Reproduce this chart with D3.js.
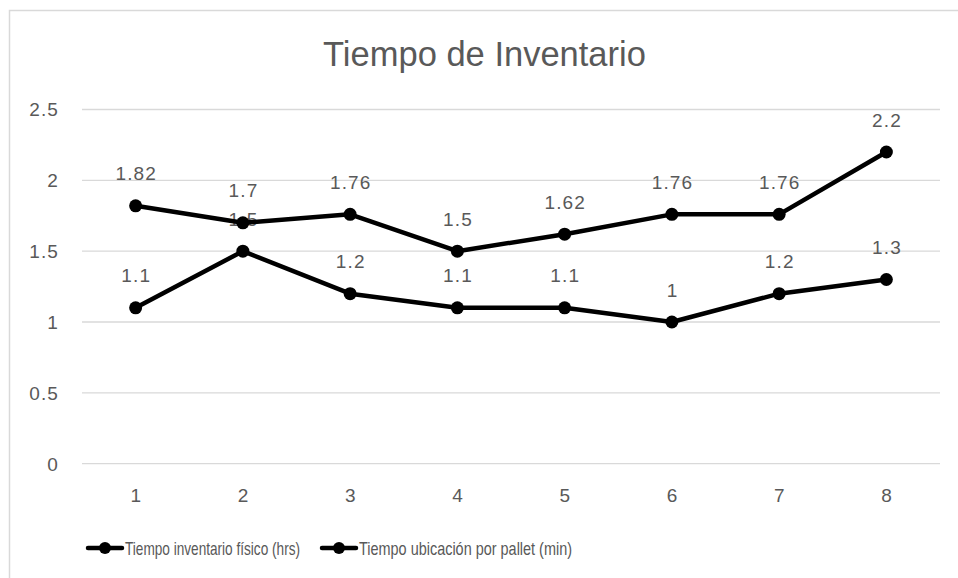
<!DOCTYPE html>
<html>
<head>
<meta charset="utf-8">
<script src="https://cdn.jsdelivr.net/npm/d3@7"></script>
<style>
  body { margin: 0; background: #fff; }
  text { font-family: "Liberation Sans", Arial, sans-serif; fill: #595959; }
</style>
</head>
<body>
<div id="main"></div>
<script>
// chart data
var categories = ["1", "2", "3", "4", "5", "6", "7", "8"];
var horasFisico = [1.1, 1.5, 1.2, 1.1, 1.1, 1, 1.2, 1.3];
var minPallet = [1.82, 1.7, 1.76, 1.5, 1.62, 1.76, 1.76, 2.2];
var seriesNames = ["Tiempo inventario físico (hrs)", "Tiempo ubicación por pallet (min)"];
var yTicks = [0, 0.5, 1, 1.5, 2, 2.5];

var W = 958, H = 578;
var margin = {top: 109.5, right: 18, bottom: 114.3, left: 82};
var width = W - margin.left - margin.right,
    height = H - margin.top - margin.bottom;

var svg = d3.select("#main").append("svg")
    .attr("width", W)
    .attr("height", H);

// chart frame (runs past the window edges)
svg.append("rect")
    .attr("x", 9.5).attr("y", 10.5)
    .attr("width", 1000).attr("height", 700)
    .attr("fill", "none")
    .attr("stroke", "#d9d9d9")
    .attr("stroke-width", 1.5);

var g = svg.append("g")
    .attr("transform", "translate(" + margin.left + "," + margin.top + ")");

var x = d3.scaleBand().domain(categories).range([0, width]);
var y = d3.scaleLinear().domain([0, 2.5]).range([height, 0]);

var numStyle = function(sel) {
    sel.style("font-size", "19px").style("letter-spacing", "1.1px");
};

// gridlines
g.selectAll(".grid")
  .data(yTicks)
  .enter().append("line")
    .attr("x1", 0).attr("x2", width)
    .attr("y1", function(d) { return y(d); })
    .attr("y2", function(d) { return y(d); })
    .attr("stroke", "#d9d9d9")
    .attr("stroke-width", 1.3);

// y axis labels
g.selectAll(".ylab")
  .data(yTicks)
  .enter().append("text")
    .attr("x", -23)
    .attr("y", function(d) { return y(d); })
    .attr("dy", "0.36em")
    .attr("text-anchor", "end")
    .call(numStyle)
    .text(function(d) { return d; });

// x axis labels
g.selectAll(".xlab")
  .data(categories)
  .enter().append("text")
    .attr("x", function(d) { return x(d) + x.bandwidth() / 2 + 0.6; })
    .attr("y", height + 31)
    .attr("dy", "0.36em")
    .attr("text-anchor", "middle")
    .call(numStyle)
    .text(function(d) { return d; });

// title
svg.append("text")
    .attr("x", 484.5)
    .attr("y", 66)
    .attr("text-anchor", "middle")
    .style("font-size", "34.5px")
    .text("Tiempo de Inventario");

var line = d3.line()
    .x(function(d, i) { return x(categories[i]) + x.bandwidth() / 2; })
    .y(function(d) { return y(d); });

[horasFisico, minPallet].forEach(function(vals) {
    g.append("path")
        .datum(vals)
        .attr("d", line)
        .attr("fill", "none")
        .attr("stroke", "#000")
        .attr("stroke-width", 4.5)
        .attr("stroke-linejoin", "round");

    g.selectAll(null)
      .data(vals)
      .enter().append("circle")
        .attr("cx", function(d, i) { return x(categories[i]) + x.bandwidth() / 2; })
        .attr("cy", function(d) { return y(d); })
        .attr("r", 6.5)
        .attr("fill", "#000");

    g.selectAll(null)
      .data(vals)
      .enter().append("text")
        .attr("x", function(d, i) { return x(categories[i]) + x.bandwidth() / 2 + 0.6; })
        .attr("y", function(d) { return y(d) - 25.5; })
        .attr("text-anchor", "middle")
        .call(numStyle)
        .text(function(d) { return d; });
});

// legend
var legendX = [88, 322];
var legendW = [175, 213];
var legend = svg.selectAll(".legend")
  .data(seriesNames)
  .enter().append("g")
    .attr("transform", function(d, i) { return "translate(" + legendX[i] + ",548)"; });

legend.append("line")
    .attr("x1", 0).attr("x2", 34)
    .attr("stroke", "#000")
    .attr("stroke-width", 4.5)
    .attr("stroke-linecap", "round");
legend.append("circle")
    .attr("cx", 17).attr("r", 6)
    .attr("fill", "#000");
legend.append("text")
    .attr("x", 37)
    .attr("dy", "0.36em")
    .attr("textLength", function(d, i) { return legendW[i]; })
    .attr("lengthAdjust", "spacingAndGlyphs")
    .style("font-size", "19px")
    .text(function(d) { return d; });
</script>
</body>
</html>
